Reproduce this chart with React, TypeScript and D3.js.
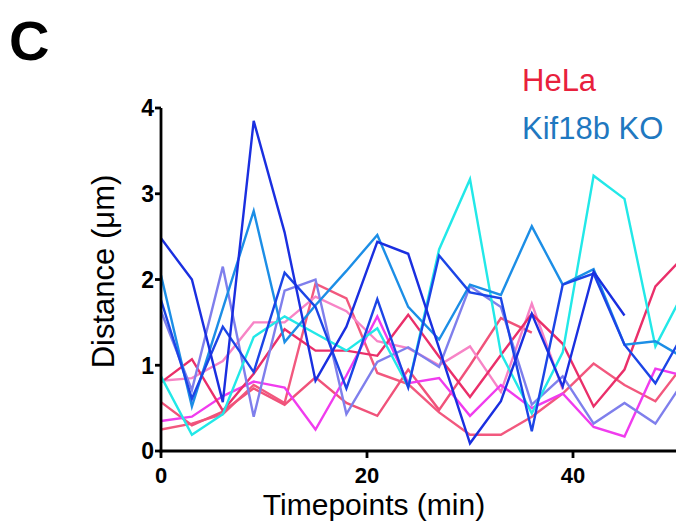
import * as d3 from "d3";
import React from "react";

// timepoints (min), one frame every 3 min
const timepoints = [0, 3, 6, 9, 12, 15, 18, 21, 24, 27, 30, 33, 36, 39, 42, 45, 48, 51];

// Kif18b KO tracks (distance, µm)
const koDarkA = [2.48, 2.0, 0.57, 3.85, 2.55, 0.82, 1.45, 2.44, 2.3, 1.2, 0.09, 0.58, 1.6, 0.75, 2.09, 1.58];
const koDarkB = [1.76, 0.61, 1.45, 0.92, 2.08, 1.68, 0.73, 1.77, 0.74, 2.28, 1.85, 1.78, 0.23, 1.94, 2.07, 1.24, 0.79, 1.43];
const koAzure = [2.05, 0.52, 1.66, 2.8, 1.27, 1.7, 2.1, 2.52, 1.68, 1.3, 1.94, 1.82, 2.62, 1.94, 2.12, 1.24, 1.28, 1.07];
const koPeri = [1.63, 0.71, 2.15, 0.4, 1.87, 2.0, 0.43, 1.04, 1.21, 0.98, 1.92, 1.68, 0.54, 0.87, 0.32, 0.56, 0.32, 0.86];
const koCyan = [0.87, 0.19, 0.43, 1.33, 1.57, 1.37, 1.17, 1.43, 0.75, 2.35, 3.17, 1.14, 0.44, 1.15, 3.21, 2.94, 1.22, 1.91];

// HeLa tracks
const helaCrimson = [0.8, 1.07, 0.47, 0.9, 1.42, 1.17, 1.17, 1.11, 1.59, 1.1, 0.63, 1.12, 1.6, 1.25, 0.52, 0.95, 1.92, 2.3];
const helaRose = [0.25, 0.32, 0.43, 0.77, 0.56, 1.95, 1.78, 0.91, 0.78, 0.45, 0.19, 0.19, 0.4, 0.67, 1.02, 0.77, 0.58, 1.05];
const helaRed = [0.57, 0.3, 0.46, 0.73, 0.54, 0.86, 0.56, 0.41, 0.95, 0.48, 1.0, 1.55, 1.38];
const helaPink = [0.82, 0.85, 1.05, 1.5, 1.5, 1.8, 1.63, 1.28, 1.2, 1.0, 1.22, 0.69, 1.72, 0.72];
const helaMagenta = [0.35, 0.4, 0.64, 0.81, 0.74, 0.25, 0.88, 1.57, 0.79, 0.85, 0.41, 0.77, 0.5, 0.67, 0.28, 0.17, 0.96, 0.87];

const xTicks = [0, 20, 40];
const yTicks = [0, 1, 2, 3, 4];
const legendLabels = ["HeLa", "Kif18b KO"];

const series = [
  { values: helaRose, color: "#f2587e" },
  { values: helaRed, color: "#f0527a" },
  { values: helaPink, color: "#f784c6" },
  { values: helaMagenta, color: "#f03cee" },
  { values: helaCrimson, color: "#ea2f6a" },
  { values: koPeri, color: "#7f7fec" },
  { values: koCyan, color: "#22e8e8" },
  { values: koAzure, color: "#1c8ee6" },
  { values: koDarkB, color: "#1c45e6" },
  { values: koDarkA, color: "#1a2fe0" },
];

export default function App() {
  const width = 678;
  const height = 523;
  const marginLeft = 161;
  const marginRight = 2;
  const marginTop = 108;
  const marginBottom = 72;

  const x = d3.scaleLinear().domain([0, 50]).range([marginLeft, width - marginRight]);
  const y = d3.scaleLinear().domain([0, 4]).range([height - marginBottom, marginTop]);

  const line = d3
    .line<number>()
    .x((d, i) => x(timepoints[i]))
    .y((d) => y(d));

  const font = "'Liberation Sans', Arial, Helvetica, sans-serif";

  return (
    <svg
      width={width}
      height={height}
      style={{ position: "absolute", left: 0, top: 0, background: "#fff" }}
      fontFamily={font}
    >
      <defs>
        <clipPath id="plot">
          <rect x={x(0)} y={0} width={x(50) - x(0)} height={y(0)} />
        </clipPath>
      </defs>

      {/* panel letter */}
      <text x={9} y={60} fontSize={56} fontWeight="bold">C</text>

      {/* data lines */}
      <g clipPath="url(#plot)" fill="none" strokeWidth={2.4} strokeLinejoin="miter">
        {series.map((s, i) => (
          <path key={i} d={line(s.values) || ""} stroke={s.color} />
        ))}
      </g>

      {/* y axis */}
      <g stroke="#000" strokeWidth={2.8}>
        <line x1={x(0)} x2={x(0)} y1={y(4)} y2={y(0) + 1.4} />
        {yTicks.map((t) => (
          <line key={t} x1={x(0) - 6} x2={x(0)} y1={y(t)} y2={y(t)} />
        ))}
      </g>
      {yTicks.map((t) => (
        <text key={t} x={x(0) - 7} y={y(t)} dy="0.36em" textAnchor="end" fontSize={23} fontWeight="bold">
          {t}
        </text>
      ))}

      {/* x axis */}
      <g stroke="#000" strokeWidth={2.8}>
        <line x1={x(0) - 1.4} x2={x(50)} y1={y(0)} y2={y(0)} />
        {xTicks.map((t) => (
          <line key={t} x1={x(t)} x2={x(t)} y1={y(0)} y2={y(0) + 7} />
        ))}
      </g>
      {xTicks.map((t) => (
        <text key={t} x={x(t)} y={y(0) + 32} textAnchor="middle" fontSize={22} fontWeight="bold">
          {t}
        </text>
      ))}

      {/* axis titles */}
      <text x={374} y={515} textAnchor="middle" fontSize={30}>Timepoints (min)</text>
      <text transform={`translate(114,${(y(0) + y(4)) / 2 - 8}) rotate(-90)`} textAnchor="middle" fontSize={31}>
        Distance (μm)
      </text>

      {/* legend */}
      <text x={522} y={91} fontSize={31} fill="#e8203c">{legendLabels[0]}</text>
      <text x={522} y={139} fontSize={31} fill="#1f78c0">{legendLabels[1]}</text>
    </svg>
  );
}
